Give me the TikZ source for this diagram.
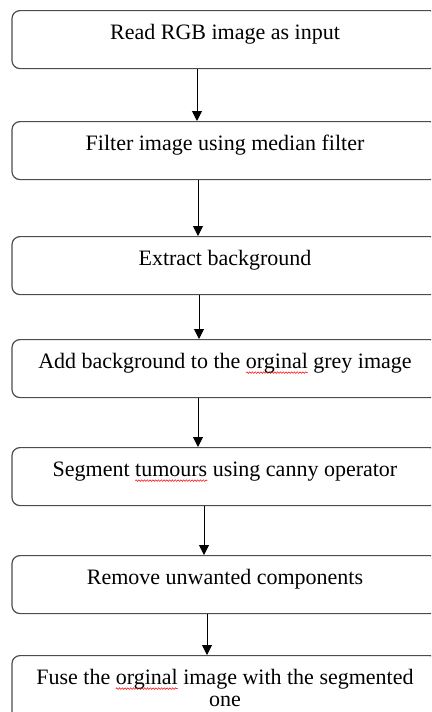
\documentclass[tikz,border=0pt]{standalone}
\usepackage{fontspec}
\setmainfont{Liberation Serif}
\usetikzlibrary{arrows.meta,decorations.pathmorphing}
\newsavebox\spellbox
\newdimen\spellwd
\newcommand\spellmark[1]{\sbox\spellbox{#1}\spellwd=\wd\spellbox\makebox[0pt][l]{\tikz[overlay,baseline=0pt,x=1pt,y=1pt]\draw[red,line width=0.5pt,rounded corners=0pt,decorate,decoration={snake,amplitude=0.8pt,segment length=2.8pt}] (0pt,-4pt) -- (\spellwd,-4pt);}\usebox\spellbox}
\tikzset{
  stepbox/.style={draw=black!70,line width=1.2pt,rounded corners=8pt,rectangle,
    minimum width=426pt,inner xsep=0pt,inner ysep=0pt,font=\fontsize{22}{22}\selectfont,
    text height=29pt,text depth=29pt,anchor=north},
  arr/.style={line width=1pt,-{Triangle[width=10pt,length=10pt]}}
}
\begin{document}
\begin{tikzpicture}[x=1pt,y=-1pt]
\useasboundingbox (0,0) rectangle (431,712);
\clip (0,0) rectangle (431,712);
\node[stepbox] (b1) at (225,10) {Read RGB image as input};
\node[stepbox] (b2) at (225,121) {Filter image using median filter};
\node[stepbox] (b3) at (225,236) {Extract background};
\node[stepbox] (b4) at (225,339) {Add background to the \spellmark{orginal} grey image};
\node[stepbox] (b5) at (225,447) {Segment \spellmark{tumours} using canny operator};
\node[stepbox] (b6) at (225,555) {Remove unwanted components};
\node[stepbox,align=center,text height=51pt,text depth=40pt] (b7) at (225,655) {Fuse the \spellmark{orginal} image with the segmented\\one};
\draw[arr] ([xshift=-28pt]b1.south) -- ([xshift=-28pt]b2.north);
\draw[arr] ([xshift=-27pt]b2.south) -- ([xshift=-27pt]b3.north);
\draw[arr] ([xshift=-26pt]b3.south) -- ([xshift=-26pt]b4.north);
\draw[arr] ([xshift=-27pt]b4.south) -- ([xshift=-27pt]b5.north);
\draw[arr] ([xshift=-21pt]b5.south) -- ([xshift=-21pt]b6.north);
\draw[arr] ([xshift=-18pt]b6.south) -- ([xshift=-18pt]b7.north);
\end{tikzpicture}
\end{document}
